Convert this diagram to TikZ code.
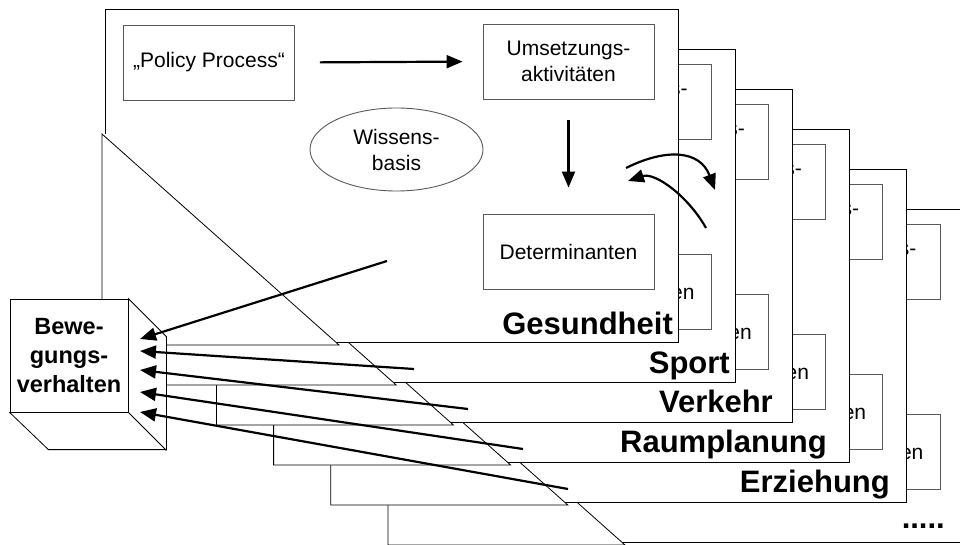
\documentclass[tikz,border=0pt]{standalone}
\usepackage{fontspec}
\setmainfont{Liberation Sans}
\usetikzlibrary{arrows.meta,shapes.geometric}
\tikzset{
  sheetline/.style={draw=black, line width=0.8pt},
  boxnode/.style={draw=black!65, line width=0.9pt, minimum width=171pt, minimum height=75pt,
    inner sep=0pt, align=center, font=\fontsize{21}{26}\selectfont},
  sheetlabel/.style={anchor=base east, inner sep=0pt, font=\bfseries\fontsize{31}{36}\selectfont},
  arr/.style={line width=2.2pt, -{Triangle[length=16pt,width=13pt]}},
  cubeline/.style={draw=black, line width=0.8pt, fill=white},
}
\newcommand\drawsheet[4]{%
  \begin{scope}[shift={(#1*57.2,#1*40)}]
    \path[fill=white] (105,9) rectangle (678,342);
    \draw[sheetline] (105,134) -- (105,9) -- (678,9) -- (678,342) -- (320,342);
    \filldraw[sheetline, fill=white] (102,134) -- (339,345) -- (102,345) -- cycle;
    \node[boxnode] (um#1) at (568.5,61.5) {Umsetzungs-\\aktivitäten};
    \node[boxnode] (det#1) at (568.5,251.5) {Determinanten};
  \end{scope}
  \node[sheetlabel] (lab#1) at (#3,#4) {#2};
}
\begin{document}
\begin{tikzpicture}[x=1pt,y=-1pt]
  \fill[white] (0,0) rectangle (960,545);
  \useasboundingbox (0,0) rectangle (960,545);
  \clip (0,0) rectangle (960,545);
  % stacked sheets, back to front
  \drawsheet{5}{.....}{945}{528}
  \drawsheet{4}{Erziehung}{890}{492}
  \drawsheet{3}{Raumplanung}{827}{452}
  \drawsheet{2}{Verkehr}{773}{412}
  \drawsheet{1}{Sport}{730}{373}
  \drawsheet{0}{Gesundheit}{673}{334}
  % front sheet content
  \node[boxnode] (pp) at (209,62.5) {„Policy Process“};
  \node[draw=black!65, line width=0.9pt, ellipse, minimum width=173pt, minimum height=83pt,
        inner sep=0pt, align=center, font=\fontsize{21}{26}\selectfont] (wb) at (396.5,149.5) {Wissens-\\basis};
  \draw[arr, shorten <=25pt, shorten >=20pt] (pp.east) -- (um0.west);
  \draw[arr, shorten <=21pt, shorten >=26pt] (um0.south) -- (det0.north);
  \coordinate (ca1) at (626,168);
  \coordinate (ca2) at (715,190);
  \coordinate (cb1) at (706,228);
  \coordinate (cb2) at (628,181);
  \draw[arr] (ca1) .. controls (666,148) and (700,150) .. (ca2);
  \draw[arr] (cb1) .. controls (688,196) and (655,172) .. (cb2);
  % cube
  \node[draw=black, line width=0.8pt, fill=white, minimum width=118pt, minimum height=113pt,
        inner sep=0pt, align=center, font=\bfseries\fontsize{23.5}{29}\selectfont]
        (cube) at (69,355.5) {Bewe-\\gungs-\\verhalten};
  \filldraw[cubeline] (cube.north east) -- ++(38,38) -- ++(0,113) -- ++(-118,0)
        -- (cube.south west) -- (cube.south east) -- cycle;
  \draw[cubeline] (cube.south east) -- ++(38,38);
  % arrows from sheets to cube
  \coordinate (s1) at (387,261);
  \coordinate (s2) at (414,369);
  \coordinate (s3) at (468,409);
  \coordinate (s4) at (523,449);
  \coordinate (s5) at (568,489);
  \coordinate (t1) at (140,339);
  \coordinate (t2) at (140,351);
  \coordinate (t3) at (140,370);
  \coordinate (t4) at (140,392);
  \coordinate (t5) at (140,412);
  \draw[arr] (s1) -- (t1);
  \draw[arr] (s2) -- (t2);
  \draw[arr] (s3) -- (t3);
  \draw[arr] (s4) -- (t4);
  \draw[arr] (s5) -- (t5);
\end{tikzpicture}
\end{document}
